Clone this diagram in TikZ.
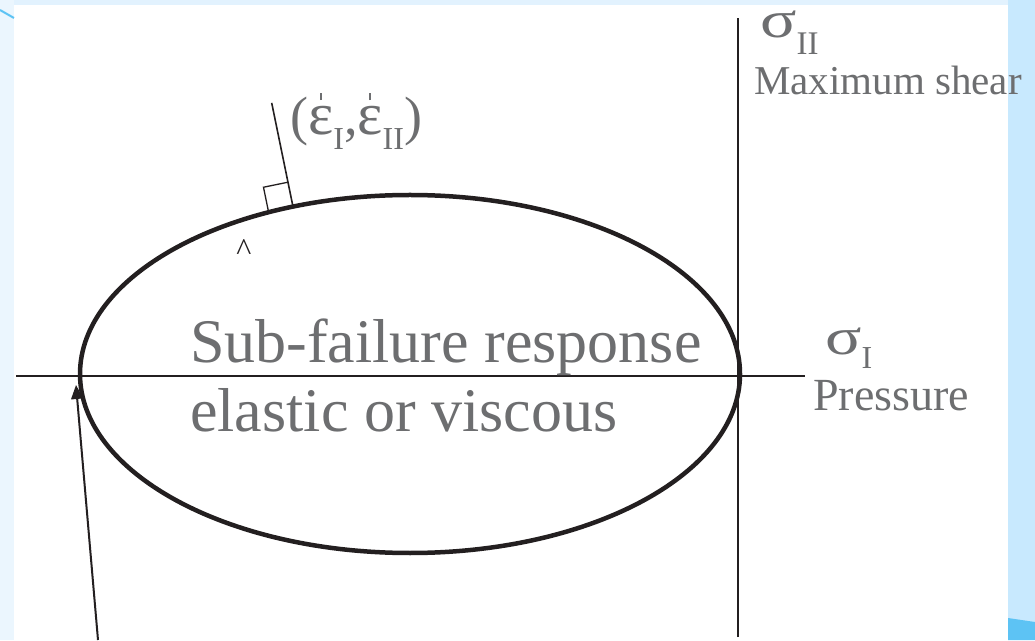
\documentclass[tikz,border=0pt]{standalone}
\usepackage{fontspec}
\setmainfont{Liberation Serif}
\usetikzlibrary{arrows.meta, calc}
\definecolor{inkgray}{HTML}{6D6E70}
\definecolor{inkblack}{HTML}{231F20}
\definecolor{paleleft}{HTML}{EBF6FE}
\definecolor{paletop}{HTML}{E2F2FE}
\definecolor{paleright}{HTML}{C8E9FE}
\definecolor{deepblue}{HTML}{5DC3F4}
\newcommand{\fsz}[1]{\fontsize{#1}{#1}\selectfont}
% strain rate symbol: epsilon with a dot on top
\newcommand{\epsdot}{{\fsz{60}\ooalign{ε\cr\hfil\rule[0.58em]{2.5pt}{7pt}\hfil\cr}}}
% wide stress sigma
\newcommand{\widesig}{{\fsz{52}\scalebox{1.3}[1]{σ}}}

\begin{document}
\begin{tikzpicture}[x=1pt, y=1pt, >={Triangle[length=14pt,width=12pt]},
  axisline/.style={inkblack, line width=1.6pt},
  yieldcurve/.style={inkblack, line width=4.5pt},
  lbl/.style={inkgray, inner sep=0pt, anchor=base west}]
  % frame of the slide
  \useasboundingbox (0,0) rectangle (1035,640);
  \fill[paleleft] (0,0) rectangle (1035,640);
  \fill[paletop] (14,635) rectangle (1008,640);
  \fill[paleright] (1008,0) rectangle (1035,640);
  \fill[deepblue] (1008,0) -- (1035,0) -- (1035,18) -- (1008,22) -- cycle;
  \fill[white] (14,0) rectangle (1008,635);
  \draw[deepblue, line width=2pt] (0,630) -- (14,622);

  % axes
  \coordinate (xl) at (16,264);
  \coordinate (xr) at (805,264);
  \coordinate (yb) at (738,3);
  \coordinate (yt) at (738,622);
  \draw[axisline] (xl) -- (xr);
  \draw[axisline] (yb) -- (yt);

  % yield surface and its normal
  \coordinate (ctr) at (410,266);
  \draw[yieldcurve] (ctr) ellipse [x radius=330, y radius=179];
  \coordinate (foot) at (293,433.3);
  \coordinate (tip) at ($(foot)+(101.6:106)$);
  \draw[inkblack, line width=1.6pt] (foot) -- (tip);
  \draw[inkblack, line width=1.3pt] (foot) ++(191.6:25) -- ++(101.6:25) -- ++(11.6:25);

  % labels
  \node[lbl] (rate) at (290,505) {\fsz{54}(\epsdot\raisebox{-15pt}{\fsz{32}I},\epsdot\raisebox{-15pt}{\fsz{32}II})};
  \node[lbl] (sII) at (760,602) {\widesig\raisebox{-17pt}{\fsz{33}II}};
  \node[lbl] (shear) at (754,545) {\fsz{41}Maximum shear};
  \node[lbl] (sI) at (825,285) {\widesig\raisebox{-14pt}{\fsz{32}I}};
  \node[lbl] (press) at (813,229) {\fsz{46}Pressure};
  \node[lbl] (sub) at (190,277) {\fsz{62}Sub-failure response};
  \node[lbl] (visc) at (190,208) {\fsz{62}elastic or viscous};
  \node[inkblack, inner sep=0pt] (hat) at (244,390) {\fsz{32}\textasciicircum};

  % pointer to the surface
  \coordinate (src) at (98,0);
  \coordinate (dst) at (76,255);
  \draw[->, inkblack, line width=2pt] (src) -- (dst);
\end{tikzpicture}
\end{document}
